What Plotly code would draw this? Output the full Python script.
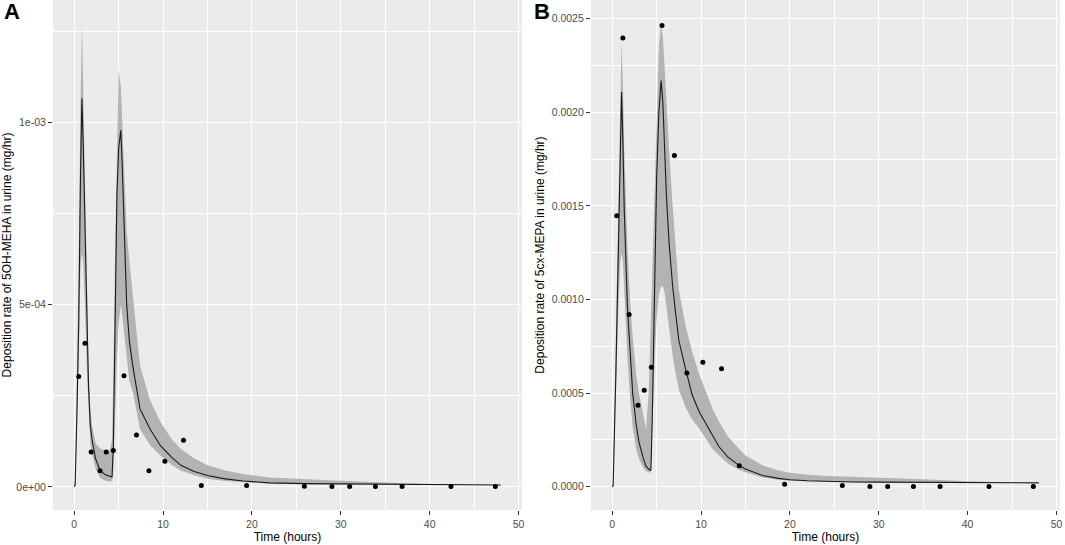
"""Urinary deposition rate: model median, band and observed points (panels A and B)"""
import plotly.graph_objects as go

COLOR_BAND = "#b3b3b3"
COLOR_LINE = "#1a1a1a"
COLOR_PANEL = "#ebebeb"
COLOR_TICK = "#4d4d4d"

# observed sampling times (hours)
obs_time = [0.5, 1.2, 1.9, 2.9, 3.6, 4.4, 5.6, 7.0, 8.4, 10.2, 12.3, 14.3, 19.4,
            25.9, 29.0, 31.0, 33.9, 36.9, 42.4, 47.4]

# A: 5OH-MEHA observed (mg/hr)
obs_a = [0.000303, 0.000394, 0.000096, 0.000044, 0.000096, 0.000100, 0.000305,
         0.000142, 0.000044, 0.000070, 0.000128, 0.000004, 0.000004, 0.000002,
         0.000001, 0.000001, 0.000001, 0.000001, 0.000001, 0.000001]

# B: 5cx-MEPA observed (mg/hr)
obs_b = [0.001447, 0.002397, 0.000920, 0.000436, 0.000516, 0.000638, 0.002464,
         0.001770, 0.000608, 0.000665, 0.000630, 0.000112, 0.000014, 0.000007,
         0.000002, 0.000002, 0.000002, 0.000002, 0.000002, 0.000002]

# A: model curve (values in 1e-3 mg/hr)
time_a = [0, 0.1, 0.3, 0.5, 0.7, 0.86, 1.0, 1.2, 1.4, 1.6, 1.8, 2.0, 2.4, 2.9, 3.5,
          4.0, 4.25, 4.4, 4.6, 4.8, 5.0, 5.24, 5.4, 5.6, 5.9, 6.2, 6.6, 7.4, 8.5,
          9.7, 11, 12, 13.5, 15, 17, 19, 22, 26, 30, 35, 40, 44, 48]
med_a = [0, 0.005, 0.2, 0.45, 0.85, 1.066, 0.95, 0.72, 0.42, 0.28, 0.17, 0.13,
         0.077, 0.045, 0.033, 0.028, 0.027, 0.11, 0.49, 0.80, 0.93, 0.979, 0.88,
         0.72, 0.50, 0.40, 0.33, 0.214, 0.16, 0.113, 0.08, 0.059, 0.042, 0.031,
         0.022, 0.016, 0.011, 0.009, 0.008, 0.007, 0.006, 0.006, 0.005]
up_a = [0, 0.02, 0.3, 0.6, 1.05, 1.27, 1.1, 0.85, 0.5, 0.34, 0.22, 0.17, 0.12,
        0.105, 0.10, 0.10, 0.13, 0.3, 0.65, 0.95, 1.144, 1.10, 1.0, 0.86, 0.70,
        0.62, 0.52, 0.333, 0.24, 0.178, 0.13, 0.104, 0.078, 0.059, 0.045, 0.035,
        0.026, 0.021, 0.017, 0.012, 0.007, 0.006, 0.006]
low_a = [0, 0, 0.15, 0.35, 0.6, 0.64, 0.62, 0.5, 0.33, 0.21, 0.12, 0.09, 0.05,
         0.025, 0.017, 0.015, 0.016, 0.04, 0.2, 0.35, 0.45, 0.5, 0.47, 0.44, 0.36,
         0.29, 0.26, 0.159, 0.115, 0.086, 0.06, 0.045, 0.032, 0.022, 0.016, 0.013,
         0.009, 0.007, 0.007, 0.006, 0.005, 0.005, 0.005]

# B: model curve (values in 1e-3 mg/hr)
time_b = [0, 0.1, 0.4, 0.7, 0.9, 1.05, 1.2, 1.35, 1.7, 2.0, 2.3, 2.7, 3.0, 3.5, 3.8,
          4.1, 4.35, 4.5, 4.65, 4.8, 5.0, 5.25, 5.5, 5.7, 5.85, 6.1, 6.4, 6.8, 7.15,
          7.5, 8.3, 9.0, 9.8, 11.3, 12.0, 13.0, 14.3, 15.0, 16.9, 18.7, 20, 22,
          24.4, 27, 30, 35, 40, 44, 48]
med_b = [0, 0.005, 0.59, 1.3, 1.75, 2.108, 1.85, 1.48, 0.97, 0.70, 0.50, 0.33,
         0.24, 0.15, 0.11, 0.095, 0.087, 0.35, 0.77, 1.15, 1.66, 2.0, 2.17, 2.05,
         1.83, 1.55, 1.30, 1.07, 0.92, 0.78, 0.62, 0.49, 0.40, 0.27, 0.215, 0.16,
         0.113, 0.095, 0.06, 0.045, 0.038, 0.032, 0.028, 0.026, 0.025, 0.023,
         0.022, 0.021, 0.021]
up_b = [0, 0.02, 0.8, 1.6, 2.05, 2.38, 2.15, 1.8, 1.3, 1.0, 0.8, 0.6, 0.5, 0.37,
        0.31, 0.5, 0.9, 1.2, 1.5, 1.75, 2.05, 2.35, 2.48, 2.4, 2.28, 2.05, 1.8,
        1.5, 1.28, 1.05, 0.85, 0.72, 0.60, 0.415, 0.35, 0.27, 0.2, 0.167, 0.115,
        0.087, 0.075, 0.064, 0.057, 0.053, 0.051, 0.04, 0.03, 0.025, 0.024]
low_b = [0, 0, 0.4, 0.95, 1.2, 1.25, 1.2, 1.05, 0.7, 0.48, 0.32, 0.2, 0.15, 0.1,
         0.085, 0.078, 0.075, 0.2, 0.45, 0.7, 0.9, 1.03, 1.07, 1.07, 1.05, 0.95,
         0.85, 0.7, 0.6, 0.52, 0.42, 0.36, 0.31, 0.2, 0.167, 0.125, 0.09, 0.078,
         0.05, 0.037, 0.032, 0.028, 0.025, 0.024, 0.023, 0.021, 0.02, 0.02, 0.02]

# tick labels
ytick_a = [0, 0.0005, 0.001]
ytext_a = ["0e+00", "5e-04", "1e-03"]
ytick_b = [0, 0.0005, 0.001, 0.0015, 0.002, 0.0025]
ytext_b = ["0.0000", "0.0005", "0.0010", "0.0015", "0.0020", "0.0025"]
xtick = [0, 10, 20, 30, 40, 50]

ytitle_a = "Deposition rate of 5OH-MEHA in urine (mg/hr)"
ytitle_b = "Deposition rate of 5cx-MEPA in urine (mg/hr)"

fig = go.Figure()


def add_panel(t, med, up, low, obs, xa, ya):
    scale = 1e-3
    fig.add_trace(go.Scatter(
        x=t + t[::-1],
        y=[v * scale for v in up] + [v * scale for v in low[::-1]],
        fill="toself", fillcolor=COLOR_BAND, line=dict(width=0),
        mode="lines", hoverinfo="skip", showlegend=False, xaxis=xa, yaxis=ya,
    ))
    fig.add_trace(go.Scatter(
        x=t, y=[v * scale for v in med], mode="lines",
        line=dict(color=COLOR_LINE, width=1.1), showlegend=False, xaxis=xa, yaxis=ya,
    ))
    fig.add_trace(go.Scatter(
        x=obs_time, y=obs, mode="markers",
        marker=dict(color="black", size=5), showlegend=False, xaxis=xa, yaxis=ya,
    ))


add_panel(time_a, med_a, up_a, low_a, obs_a, "x", "y")
add_panel(time_b, med_b, up_b, low_b, obs_b, "x2", "y2")

axis_common = dict(
    showgrid=True, gridcolor="white", gridwidth=1.3, zeroline=False,
    ticks="outside", ticklen=4, tickcolor="#333333", tickwidth=1,
    tickfont=dict(size=10.5, color=COLOR_TICK), showline=False,
)

xaxis_common = dict(
    axis_common, range=[-2.4, 50.4], tickvals=xtick,
    minor=dict(tickvals=[5, 15, 25, 35, 45], showgrid=True, gridcolor="white", gridwidth=0.6),
    title=dict(text="Time (hours)", font=dict(size=12, color="black"), standoff=2),
)

fig.update_layout(
    width=1065, height=545,
    margin=dict(l=0, r=0, t=0, b=0),
    paper_bgcolor="white", plot_bgcolor=COLOR_PANEL,
    font=dict(family="Liberation Sans, Arial, sans-serif", color="black"),
    xaxis=dict(xaxis_common, domain=[0.0498, 0.4911], anchor="y"),
    xaxis2=dict(xaxis_common, domain=[0.5559, 0.9972], anchor="y2"),
    yaxis=dict(
        axis_common, domain=[0.0642, 1], anchor="x",
        range=[-0.0000635, 0.001336], tickvals=ytick_a, ticktext=ytext_a,
        minor=dict(tickvals=[0.00025, 0.00075, 0.00125], showgrid=True,
                   gridcolor="white", gridwidth=0.6),
        title=dict(text=ytitle_a, font=dict(size=12, color="black"), standoff=4),
    ),
    yaxis2=dict(
        axis_common, domain=[0.0642, 1], anchor="x2",
        range=[-0.000124, 0.0026], tickvals=ytick_b, ticktext=ytext_b,
        minor=dict(tickvals=[0.00025, 0.00075, 0.00125, 0.00175, 0.00225],
                   showgrid=True, gridcolor="white", gridwidth=0.6),
        title=dict(text=ytitle_b, font=dict(size=12, color="black"), standoff=4),
    ),
)

# panel letters
fig.add_annotation(text="<b>A</b>", x=0.002, y=1.005, xref="paper", yref="paper",
                   xanchor="left", yanchor="top", showarrow=False,
                   font=dict(size=22, color="black"))
fig.add_annotation(text="<b>B</b>", x=0.5, y=1.005, xref="paper", yref="paper",
                   xanchor="left", yanchor="top", showarrow=False,
                   font=dict(size=22, color="black"))

# page body has a default 8px margin; drop it so the figure fills the window
fig.write_html(
    "out.html",
    config={"displayModeBar": False},
    post_script="document.body.style.margin='0';",
)
